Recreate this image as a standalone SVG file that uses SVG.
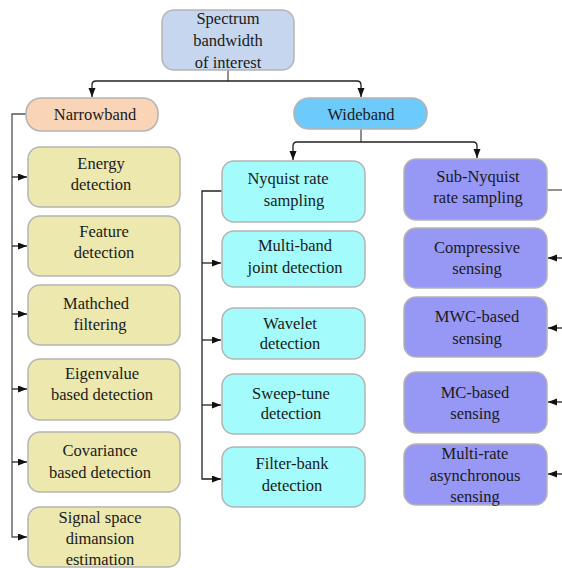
<svg xmlns="http://www.w3.org/2000/svg" width="562" height="568" viewBox="0 0 562 568">
<defs>
<marker id="ar" markerUnits="userSpaceOnUse" markerWidth="10" markerHeight="8" refX="9" refY="3.5" orient="auto">
<path d="M0,0 L9,3.5 L0,7 z" fill="#111"/>
</marker>
<style>
.b{stroke:#b4b4b4;stroke-width:1.5}
.root{fill:#c6d6ef}
.nb{fill:#f9d4b6}
.wb{fill:#6dcbfb}
.y{fill:#ece8ae}
.c{fill:#a3fbfb}
.p{fill:#9797f5}
text{font-family:"Liberation Serif","Times New Roman",serif;font-size:16.5px;fill:#1a1a1a;text-anchor:middle}
.l{fill:none;stroke:#222;stroke-width:1.3}
.g{fill:none;stroke:#555;stroke-width:1.3}
</style>
</defs>
<rect width="562" height="568" fill="#fff"/>
<g id="connectors">
<path class="g" d="M228 70 V81"/>
<path class="l" d="M228 81 H96 Q92 81 92 85 V97" marker-end="url(#ar)"/>
<path class="l" d="M228 81 H357 Q361 81 361 85 V97" marker-end="url(#ar)"/>
<path class="g" d="M26 114 H12 V537 H27" marker-end="url(#ar)"/>
<path class="l" d="M12 177 H27" marker-end="url(#ar)"/>
<path class="l" d="M12 246 H27" marker-end="url(#ar)"/>
<path class="l" d="M12 314 H27" marker-end="url(#ar)"/>
<path class="l" d="M12 389 H27" marker-end="url(#ar)"/>
<path class="l" d="M12 462 H27" marker-end="url(#ar)"/>
<path class="g" d="M361 129 V142"/>
<path class="l" d="M361 142 H297 Q293 142 293 146 V160" marker-end="url(#ar)"/>
<path class="l" d="M361 142 H473 Q477 142 477 146 V158" marker-end="url(#ar)"/>
<path class="l" d="M222 191 H202 V479 H221" marker-end="url(#ar)"/>
<path class="l" d="M202 263 H221" marker-end="url(#ar)"/>
<path class="l" d="M202 340 H221" marker-end="url(#ar)"/>
<path class="l" d="M202 405 H221" marker-end="url(#ar)"/>
<path class="g" d="M547 190 H562"/>
<path class="l" d="M562 258 H548" marker-end="url(#ar)"/>
<path class="l" d="M562 328 H548" marker-end="url(#ar)"/>
<path class="l" d="M562 402 H548" marker-end="url(#ar)"/>
<path class="l" d="M562 474 H548" marker-end="url(#ar)"/>
</g>
<g id="root"><rect class="b root" x="162" y="10" width="132" height="60" rx="12"/>
<text x="228" y="24">Spectrum</text><text x="228" y="46">bandwidth</text><text x="228" y="68">of interest</text></g>
<g id="narrowband"><rect class="b nb" x="26" y="98" width="132" height="33" rx="15"/><text x="95" y="120">Narrowband</text></g>
<g id="wideband"><rect class="b wb" x="294" y="98" width="133" height="31" rx="15"/><text x="361" y="120">Wideband</text></g>

<g id="energy"><rect class="b y" x="28" y="147" width="152" height="60" rx="12"/><text x="101" y="169">Energy</text><text x="101" y="190">detection</text></g>
<g id="feature"><rect class="b y" x="28" y="216" width="152" height="60" rx="12"/><text x="104" y="237">Feature</text><text x="104" y="258">detection</text></g>
<g id="matched"><rect class="b y" x="28" y="285" width="152" height="60" rx="12"/><text x="96" y="309">Mathched</text><text x="100" y="330">filtering</text></g>
<g id="eigen"><rect class="b y" x="28" y="359" width="152" height="61" rx="12"/><text x="102" y="379">Eigenvalue</text><text x="102" y="400">based detection</text></g>
<g id="covariance"><rect class="b y" x="28" y="432" width="152" height="60" rx="12"/><text x="100" y="456">Covariance</text><text x="100" y="478">based detection</text></g>
<g id="signal"><rect class="b y" x="28" y="507" width="152" height="60" rx="12"/><text x="100" y="523">Signal space</text><text x="100" y="544">dimansion</text><text x="100" y="565">estimation</text></g>

<g id="nyquist"><rect class="b c" x="222" y="161" width="143" height="61" rx="12"/><text x="288" y="184">Nyquist rate</text><text x="294" y="206">sampling</text></g>
<g id="multiband"><rect class="b c" x="222" y="231" width="143" height="56" rx="12"/><text x="295" y="251">Multi-band</text><text x="295" y="273">joint detection</text></g>
<g id="wavelet"><rect class="b c" x="222" y="308" width="143" height="51" rx="12"/><text x="290" y="329">Wavelet</text><text x="290" y="349">detection</text></g>
<g id="sweep"><rect class="b c" x="222" y="374" width="143" height="60" rx="12"/><text x="291" y="399">Sweep-tune</text><text x="291" y="419">detection</text></g>
<g id="filterbank"><rect class="b c" x="222" y="447" width="143" height="60" rx="12"/><text x="292" y="469">Filter-bank</text><text x="292" y="491">detection</text></g>

<g id="subnyquist"><rect class="b p" x="404" y="159" width="143" height="61" rx="12"/><text x="478" y="182">Sub-Nyquist</text><text x="478" y="203">rate sampling</text></g>
<g id="compressive"><rect class="b p" x="404" y="228" width="143" height="60" rx="12"/><text x="477" y="253">Compressive</text><text x="477" y="274">sensing</text></g>
<g id="mwc"><rect class="b p" x="404" y="297" width="143" height="60" rx="12"/><text x="477" y="322">MWC-based</text><text x="477" y="344">sensing</text></g>
<g id="mc"><rect class="b p" x="404" y="372" width="143" height="61" rx="12"/><text x="475" y="398">MC-based</text><text x="475" y="419">sensing</text></g>
<g id="multirate"><rect class="b p" x="404" y="444" width="143" height="61" rx="12"/><text x="475" y="459">Multi-rate</text><text x="475" y="481">asynchronous</text><text x="475" y="502">sensing</text></g>
</svg>
